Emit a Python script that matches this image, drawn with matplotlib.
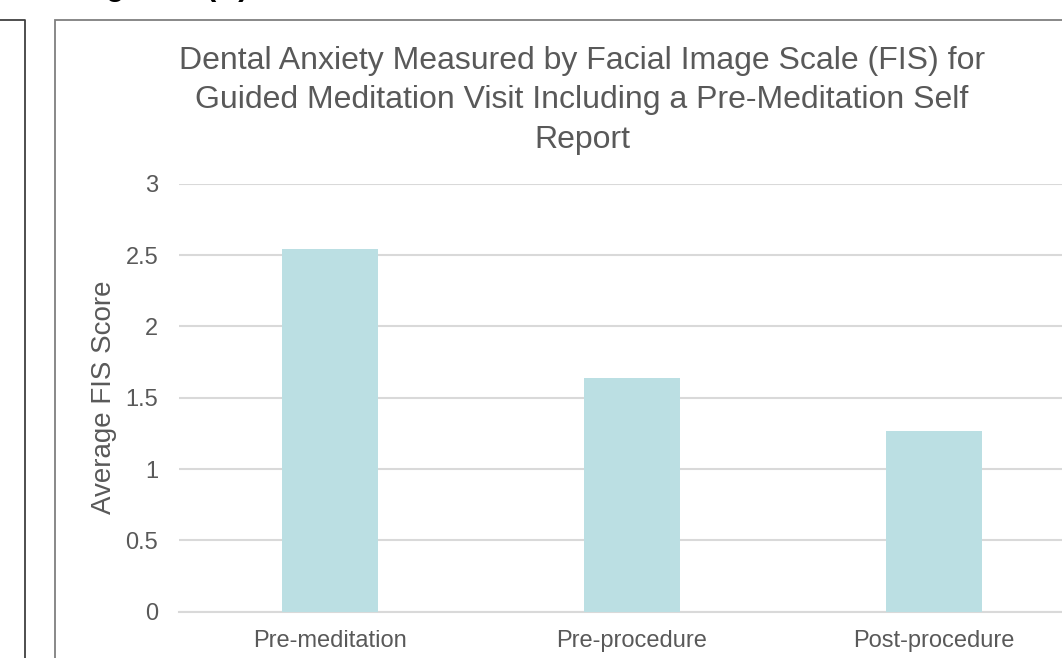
import matplotlib.pyplot as plt
from matplotlib.patches import Rectangle
from matplotlib.lines import Line2D

plt.rcParams['font.family'] = ['Liberation Sans', 'DejaVu Sans']

# datos del grafico
stages = ['Pre-meditation', 'Pre-procedure', 'Post-procedure']
fis_scores = [2.54, 1.64, 1.27]
y_ticks = [0, 0.5, 1, 1.5, 2, 2.5, 3]

text_gray = '#595959'
grid_gray = '#D9D9D9'
bar_color = '#BBDFE3'

fig = plt.figure(figsize=(10.62, 6.58), dpi=100)
W, H = 1062, 658

# pasar de pixeles a coordenadas de figura
def px(x, y):
    return x / W, 1 - y / H

# marcos de los paneles
fig.patches.append(Rectangle(px(55, 700), 1200 / W, 680 / H, transform=fig.transFigure,
                             fill=False, edgecolor='#7F7F7F', linewidth=1.3))
fig.lines.append(Line2D([0, 25 / W, 25 / W], [1 - 20 / H, 1 - 20 / H, 0],
                        transform=fig.transFigure, color='#404040', linewidth=1.3))

# rotulo del panel, casi todo por encima del lienzo
fig.text(79 / W, 1 + 5 / H, 'Figure 1 (A)', fontsize=22, fontweight='bold',
         color='black', va='baseline', ha='left')

ax = fig.add_axes([179 / W, (H - 611.7) / H, 906 / W, 428 / H])
ax.bar(range(len(stages)), fis_scores, width=0.315, color=bar_color, zorder=3)

ax.set_xlim(-0.5, len(stages) - 0.5)
ax.set_ylim(0, 3)
ax.set_yticks(y_ticks)
ax.set_yticklabels([f'{t:g}' for t in y_ticks])
ax.set_xticks(range(len(stages)))
ax.set_xticklabels(stages)

ax.yaxis.grid(True, color=grid_gray, linewidth=1.5, zorder=0)
ax.set_axisbelow(True)
for side in ['top', 'right', 'left']:
    ax.spines[side].set_visible(False)
ax.spines['bottom'].set_color(grid_gray)
ax.spines['bottom'].set_linewidth(1.5)
ax.tick_params(axis='both', length=0, labelsize=17, colors=text_gray)
ax.tick_params(axis='y', pad=15)
ax.tick_params(axis='x', pad=13)

ax.set_ylabel('Average FIS Score', fontsize=20, color=text_gray, labelpad=6)

fig.text(582 / W, 1 - 46 / H,
         'Dental Anxiety Measured by Facial Image Scale (FIS) for\n'
         'Guided Meditation Visit Including a Pre-Meditation Self\nReport',
         ha='center', va='top', fontsize=23, color=text_gray, linespacing=1.41)

fig.savefig('out.png', dpi=100)
